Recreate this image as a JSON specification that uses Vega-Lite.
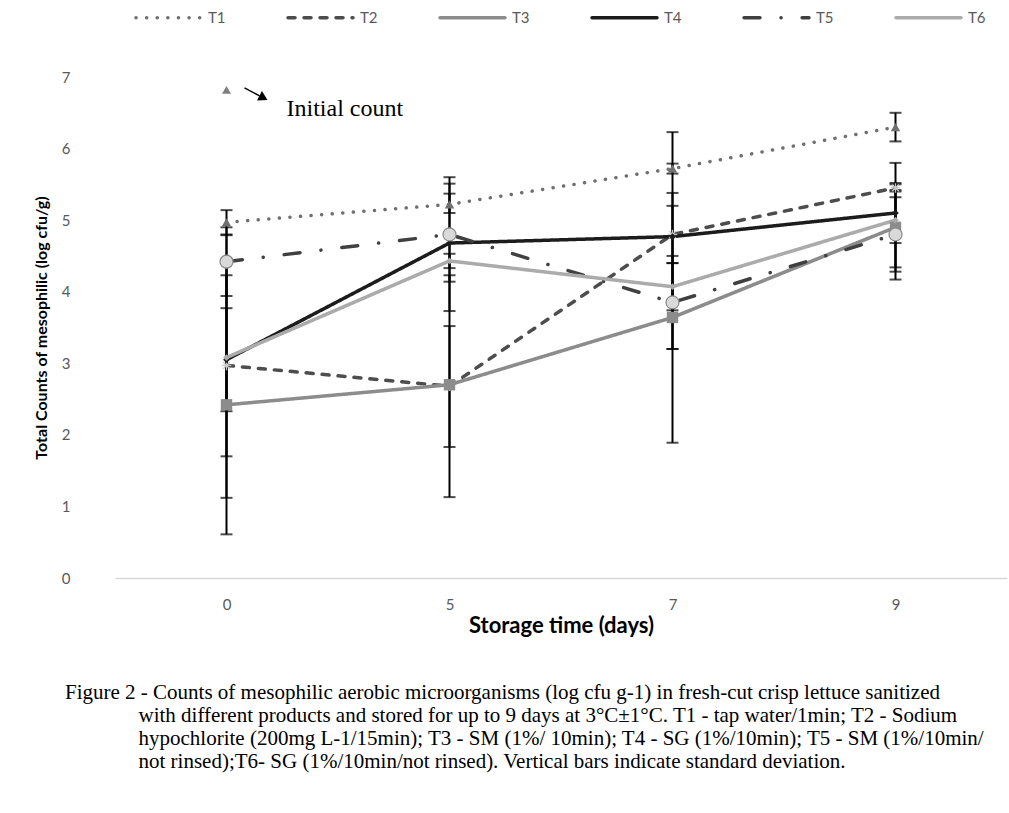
{
  "$schema": "https://vega.github.io/schema/vega-lite/v6.json",
  "width": 892,
  "height": 501,
  "autosize": {"type": "none"},
  "padding": {"left": 115, "top": 77, "right": 2, "bottom": 235},
  "background": "white",
  "datasets": {
    "pts": [
      {"day": 0, "series": "T1", "mean": 4.97, "lo": 4.80, "hi": 5.14},
      {"day": 5, "series": "T1", "mean": 5.22, "lo": 5.10, "hi": 5.37},
      {"day": 7, "series": "T1", "mean": 5.72, "lo": 5.65, "hi": 5.79},
      {"day": 9, "series": "T1", "mean": 6.30, "lo": 6.10, "hi": 6.50},
      {"day": 0, "series": "T2", "mean": 2.97, "lo": 1.12, "hi": 4.79},
      {"day": 5, "series": "T2", "mean": 2.68, "lo": 1.83, "hi": 3.52},
      {"day": 7, "series": "T2", "mean": 4.80, "lo": 4.40, "hi": 5.20},
      {"day": 9, "series": "T2", "mean": 5.45, "lo": 5.40, "hi": 5.50},
      {"day": 0, "series": "T3", "mean": 2.42, "lo": 0.61, "hi": 4.23},
      {"day": 5, "series": "T3", "mean": 2.70, "lo": 1.13, "hi": 4.23},
      {"day": 7, "series": "T3", "mean": 3.64, "lo": 1.89, "hi": 5.38},
      {"day": 9, "series": "T3", "mean": 4.90, "lo": 4.28, "hi": 5.52},
      {"day": 0, "series": "T4", "mean": 3.05, "lo": 2.33, "hi": 3.77},
      {"day": 5, "series": "T4", "mean": 4.68, "lo": 3.73, "hi": 5.60},
      {"day": 7, "series": "T4", "mean": 4.77, "lo": 3.20, "hi": 6.23},
      {"day": 9, "series": "T4", "mean": 5.10, "lo": 4.34, "hi": 5.80},
      {"day": 0, "series": "T5", "mean": 4.42, "lo": 3.94, "hi": 4.90},
      {"day": 5, "series": "T5", "mean": 4.80, "lo": 4.14, "hi": 5.51},
      {"day": 7, "series": "T5", "mean": 3.85, "lo": 3.20, "hi": 4.50},
      {"day": 9, "series": "T5", "mean": 4.80, "lo": 4.17, "hi": 5.42},
      {"day": 0, "series": "T6", "mean": 3.08, "lo": 1.70, "hi": 4.46},
      {"day": 5, "series": "T6", "mean": 4.43, "lo": 4.33, "hi": 4.53},
      {"day": 7, "series": "T6", "mean": 4.07, "lo": 3.74, "hi": 4.40},
      {"day": 9, "series": "T6", "mean": 5.00, "lo": 4.68, "hi": 5.32}
    ],
    "init": [
      {"day": 0, "value": 6.82, "label": "Initial count"}
    ]
  },
  "title": {
    "text": [
      "Figure 2 - Counts of mesophilic aerobic microorganisms (log cfu g-1) in fresh-cut crisp lettuce sanitized",
      "\u200b\u00a0\u00a0\u00a0\u00a0\u00a0\u00a0\u00a0\u00a0\u00a0\u00a0\u00a0\u00a0\u00a0\u00a0with different products and stored for up to 9 days at 3°C±1°C. T1 - tap water/1min; T2 - Sodium",
      "\u200b\u00a0\u00a0\u00a0\u00a0\u00a0\u00a0\u00a0\u00a0\u00a0\u00a0\u00a0\u00a0\u00a0\u00a0hypochlorite (200mg L-1/15min); T3 - SM (1%/ 10min); T4 - SG (1%/10min); T5 - SM (1%/10min/",
      "\u200b\u00a0\u00a0\u00a0\u00a0\u00a0\u00a0\u00a0\u00a0\u00a0\u00a0\u00a0\u00a0\u00a0\u00a0not rinsed);T6- SG (1%/10min/not rinsed). Vertical bars indicate standard deviation."
    ],
    "orient": "bottom",
    "anchor": "start",
    "frame": "group",
    "dx": -50,
    "offset": 46,
    "font": "Liberation Serif",
    "fontSize": 21,
    "fontWeight": "normal",
    "lineHeight": 23,
    "color": "#000000",
    "baseline": "top"
  },
  "config": {
    "view": {"stroke": null},
    "axisX": {
      "domainColor": "#d9d9d9",
      "domainWidth": 1.5,
      "ticks": false,
      "grid": false,
      "labelAngle": 0,
      "labelFont": "Lato",
      "labelFontSize": 15,
      "labelColor": "#595959",
      "labelPadding": 19,
      "titleFont": "Lato",
      "titleFontSize": 22,
      "titleFontWeight": "bold",
      "titleColor": "#000000",
      "titlePadding": 3
    },
    "axisY": {
      "domain": false,
      "ticks": false,
      "grid": false,
      "format": "d",
      "labelFont": "Lato",
      "labelFontSize": 15,
      "labelColor": "#595959",
      "labelPadding": 45,
      "titleFont": "Lato",
      "titleFontSize": 16,
      "titleFontWeight": "bold",
      "titleColor": "#000000",
      "titlePadding": 12
    },
    "point": {"filled": true, "opacity": 1}
  },
  "encoding": {
    "x": {
      "field": "day",
      "type": "ordinal",
      "title": "Storage time (days)",
      "scale": {"type": "point", "padding": 0.5, "domain": [0, 5, 7, 9]}
    }
  },
  "layer": [
    {
      "data": {"name": "pts"},
      "mark": {"type": "line", "strokeWidth": 3.5, "strokeCap": "round"},
      "encoding": {
        "y": {"field": "mean", "type": "quantitative", "title": "Total Counts of mesophilic (log cfu/g)", "scale": {"domain": [0, 7], "nice": false}, "axis": {"values": [0, 1, 2, 3, 4, 5, 6, 7]}},
        "color": {
          "field": "series", "type": "nominal",
          "scale": {"domain": ["T1", "T2", "T3", "T4", "T5", "T6"], "range": ["#6f6f6f", "#4d4d4d", "#8c8c8c", "#1c1c1c", "#404040", "#ababab"]},
          "legend": {
            "title": null, "orient": "none", "legendX": 19, "legendY": -94,
            "direction": "horizontal", "columns": 6, "gridAlign": "all",
            "symbolType": "stroke", "symbolSize": 4225, "symbolStrokeWidth": 3.5,
            "labelFont": "Lato", "labelFontSize": 15, "labelColor": "#595959",
            "labelOffset": 5, "columnPadding": 55,
            "encode": {"symbols": {"update": {"strokeCap": {"value": "round"}}}}
          }
        },
        "strokeDash": {
          "field": "series", "type": "nominal",
          "scale": {"domain": ["T1", "T2", "T3", "T4", "T5", "T6"], "range": [[0.1, 10.5], [7, 9], [1, 0], [1, 0], [16, 21, 0.1, 21], [1, 0]]},
          "legend": {
            "title": null, "orient": "none", "legendX": 19, "legendY": -94,
            "direction": "horizontal", "columns": 6, "gridAlign": "all",
            "symbolType": "stroke", "symbolSize": 4225, "symbolStrokeWidth": 3.5,
            "labelFont": "Lato", "labelFontSize": 15, "labelColor": "#595959",
            "labelOffset": 5, "columnPadding": 55,
            "encode": {"symbols": {"update": {"strokeCap": {"value": "round"}}}}
          }
        }
      }
    },
    {
      "data": {"name": "pts"},
      "mark": {"type": "rule", "color": "#000000", "strokeWidth": 2},
      "encoding": {
        "y": {"field": "lo", "type": "quantitative", "title": "Total Counts of mesophilic (log cfu/g)"},
        "y2": {"field": "hi"}
      }
    },
    {
      "data": {"name": "pts"},
      "mark": {"type": "tick", "color": "#000000", "size": 12, "thickness": 2},
      "encoding": {
        "y": {"field": "lo", "type": "quantitative", "title": "Total Counts of mesophilic (log cfu/g)"}
      }
    },
    {
      "data": {"name": "pts"},
      "mark": {"type": "tick", "color": "#000000", "size": 12, "thickness": 2},
      "encoding": {
        "y": {"field": "hi", "type": "quantitative", "title": "Total Counts of mesophilic (log cfu/g)"}
      }
    },
    {
      "data": {"name": "pts"},
      "transform": [{"filter": {"field": "series", "equal": "T1"}}],
      "mark": {"type": "point", "shape": "triangle-up", "color": "#6f6f6f", "size": 90},
      "encoding": {"y": {"field": "mean", "type": "quantitative", "title": "Total Counts of mesophilic (log cfu/g)"}}
    },
    {
      "data": {"name": "pts"},
      "transform": [{"filter": {"field": "series", "equal": "T2"}}],
      "mark": {"type": "point", "filled": false, "shape": "M-1,0L1,0M0,-1L0,1M-0.7,-0.7L0.7,0.7M-0.7,0.7L0.7,-0.7", "stroke": "#c8c8c8", "strokeWidth": 1.3, "size": 90},
      "encoding": {"y": {"field": "mean", "type": "quantitative", "title": "Total Counts of mesophilic (log cfu/g)"}}
    },
    {
      "data": {"name": "pts"},
      "transform": [{"filter": {"field": "series", "equal": "T3"}}],
      "mark": {"type": "point", "shape": "square", "color": "#8c8c8c", "size": 130},
      "encoding": {"y": {"field": "mean", "type": "quantitative", "title": "Total Counts of mesophilic (log cfu/g)"}}
    },
    {
      "data": {"name": "pts"},
      "transform": [{"filter": {"field": "series", "equal": "T4"}}],
      "mark": {"type": "point", "shape": "diamond", "color": "#1c1c1c", "size": 45},
      "encoding": {"y": {"field": "mean", "type": "quantitative", "title": "Total Counts of mesophilic (log cfu/g)"}}
    },
    {
      "data": {"name": "pts"},
      "transform": [{"filter": {"field": "series", "equal": "T5"}}],
      "mark": {"type": "point", "shape": "circle", "fill": "#d9d9d9", "stroke": "#8a8a8a", "strokeWidth": 1.2, "size": 170},
      "encoding": {"y": {"field": "mean", "type": "quantitative", "title": "Total Counts of mesophilic (log cfu/g)"}}
    },
    {
      "data": {"name": "pts"},
      "transform": [{"filter": {"field": "series", "equal": "T6"}}],
      "mark": {"type": "point", "shape": "diamond", "color": "#ababab", "size": 45},
      "encoding": {"y": {"field": "mean", "type": "quantitative", "title": "Total Counts of mesophilic (log cfu/g)"}}
    },
    {
      "data": {"name": "init"},
      "mark": {"type": "point", "shape": "triangle-up", "color": "#808080", "size": 80},
      "encoding": {
        "y": {"field": "value", "type": "quantitative", "title": "Total Counts of mesophilic (log cfu/g)"}
      }
    },
    {
      "data": {"name": "init"},
      "mark": {"type": "rule", "color": "#000000", "strokeWidth": 1.5, "xOffset": 18, "x2Offset": 33, "yOffset": -2, "y2Offset": 6},
      "encoding": {
        "y": {"field": "value", "type": "quantitative", "title": "Total Counts of mesophilic (log cfu/g)"},
        "x2": {"field": "day"},
        "y2": {"field": "value"}
      }
    },
    {
      "data": {"name": "init"},
      "mark": {"type": "point", "shape": "triangle-right", "angle": 28, "color": "#000000", "size": 110, "xOffset": 37, "yOffset": 8},
      "encoding": {
        "y": {"field": "value", "type": "quantitative", "title": "Total Counts of mesophilic (log cfu/g)"}
      }
    },
    {
      "data": {"name": "init"},
      "mark": {"type": "text", "align": "left", "baseline": "middle", "dx": 60, "dy": 19, "font": "Liberation Serif", "fontSize": 24, "color": "#000000"},
      "encoding": {
        "y": {"field": "value", "type": "quantitative", "title": "Total Counts of mesophilic (log cfu/g)"},
        "text": {"field": "label"}
      }
    }
  ]
}
